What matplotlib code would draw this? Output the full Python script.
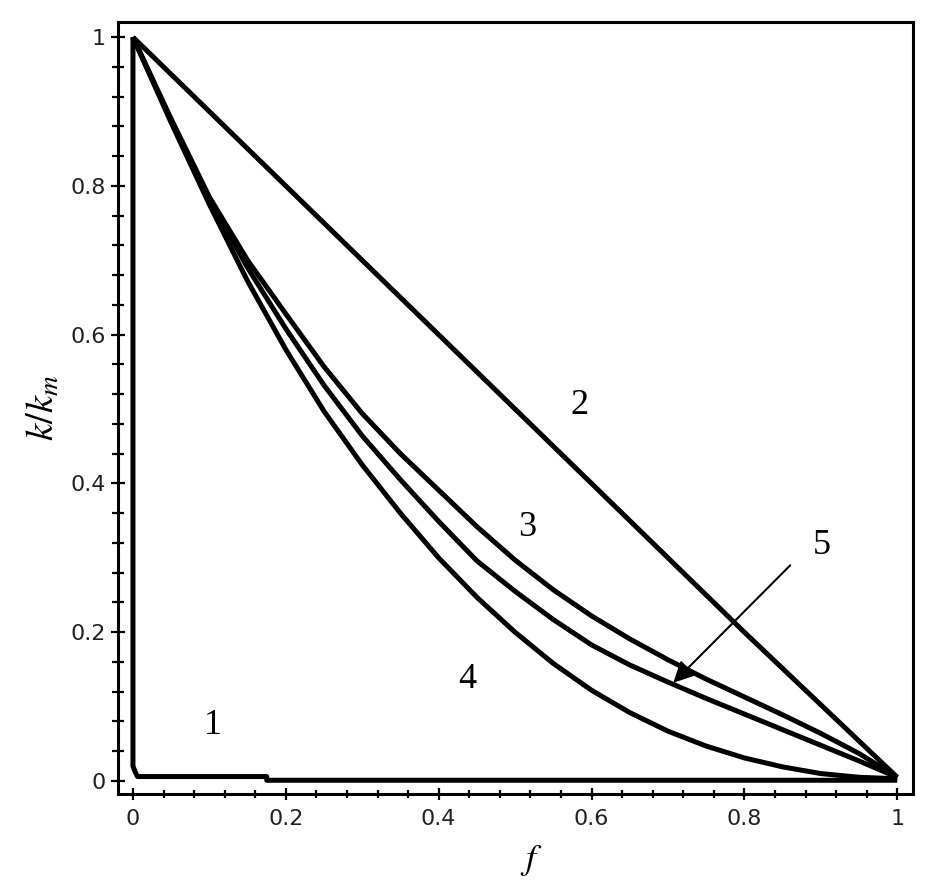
import matplotlib
matplotlib.use("Agg")
import matplotlib.pyplot as plt
from matplotlib.ticker import FixedLocator, MultipleLocator

# ---- data ----
f1 = [0.0, 0.0, 0.003, 0.006, 0.175, 0.175, 1.0]
k1 = [1.0, 0.02, 0.012, 0.006, 0.006, 0.001, 0.001]

f2 = [0.0, 0.2, 0.4, 0.6, 0.8, 1.0]
k2 = [1.0, 0.8, 0.6, 0.4, 0.2, 0.005]

f_grid = [0.0, 0.05, 0.1, 0.15, 0.2, 0.25, 0.3, 0.35, 0.4, 0.45, 0.5,
          0.55, 0.6, 0.65, 0.7, 0.75, 0.8, 0.85, 0.9, 0.95, 1.0]
k3 = [1.0, 0.890, 0.785, 0.700, 0.628, 0.557, 0.494, 0.440, 0.391, 0.342, 0.297,
      0.257, 0.222, 0.191, 0.163, 0.137, 0.113, 0.089, 0.064, 0.037, 0.005]
k5 = [1.0, 0.887, 0.782, 0.690, 0.608, 0.532, 0.464, 0.405, 0.349, 0.296, 0.255,
      0.217, 0.183, 0.156, 0.133, 0.111, 0.090, 0.069, 0.048, 0.027, 0.005]
k4 = [1.0, 0.885, 0.775, 0.672, 0.580, 0.497, 0.425, 0.360, 0.300, 0.247, 0.200,
      0.158, 0.122, 0.092, 0.067, 0.047, 0.031, 0.019, 0.010, 0.005, 0.003]

curve_labels = ['1', '2', '3', '4', '5']
label_f = [0.105, 0.584, 0.516, 0.438, 0.901]
label_k = [0.075, 0.505, 0.341, 0.136, 0.317]
arrow_from = (0.860, 0.290)
arrow_to = (0.707, 0.132)

xticks = [0.0, 0.2, 0.4, 0.6, 0.8, 1.0]
xtick_labels = ['0', '0.2', '0.4', '0.6', '0.8', '1']
yticks = [0.0, 0.2, 0.4, 0.6, 0.8, 1.0]
ytick_labels = ['0', '0.2', '0.4', '0.6', '0.8', '1']

# ---- figure ----
plt.rcParams['mathtext.fontset'] = 'stix'
fig = plt.figure(figsize=(9.29, 8.85), dpi=100)
ax = fig.add_axes([0.127, 0.1028, 0.856, 0.8722])

lw = 3.6
for fx, ky in [(f1, k1), (f2, k2), (f_grid, k3), (f_grid, k5), (f_grid, k4)]:
    ax.plot(fx, ky, color='black', lw=lw, solid_joinstyle='round',
            solid_capstyle='butt', clip_on=False)

ax.set_xlim(-0.0196, 1.0209)
ax.set_ylim(-0.0175, 1.0202)

ax.xaxis.set_major_locator(FixedLocator(xticks))
ax.set_xticklabels(xtick_labels)
ax.yaxis.set_major_locator(FixedLocator(yticks))
ax.set_yticklabels(ytick_labels)
ax.xaxis.set_minor_locator(MultipleLocator(0.04))
ax.yaxis.set_minor_locator(MultipleLocator(0.04))

ax.tick_params(axis='both', which='both', direction='inout', width=1.6,
               color='black', top=False, right=False)
ax.tick_params(axis='y', which='major', length=10, pad=4, labelsize=16)
ax.tick_params(axis='y', which='minor', length=9)
ax.tick_params(axis='x', which='major', length=9, pad=6, labelsize=16)
ax.tick_params(axis='x', which='minor', length=6)
for lab in ax.get_xticklabels() + ax.get_yticklabels():
    lab.set_color('#222222')

for s in ax.spines.values():
    s.set_linewidth(2.2)

ax.set_xlabel(r'$f$', fontsize=26)
ax.xaxis.set_label_coords(0.52, -0.064)
ax.set_ylabel(r'$k/k_m$', fontsize=28)
ax.yaxis.set_label_coords(-0.07, 0.5)

for t, x, y in zip(curve_labels, label_f, label_k):
    ax.text(x, y, t, fontsize=26, family='Liberation Serif',
            ha='center', va='center')

ax.annotate('', xy=arrow_to, xytext=arrow_from,
            arrowprops=dict(arrowstyle='-|>', lw=1.5, color='black',
                            mutation_scale=32, shrinkA=0, shrinkB=0))

fig.savefig('out.png', dpi=100)
